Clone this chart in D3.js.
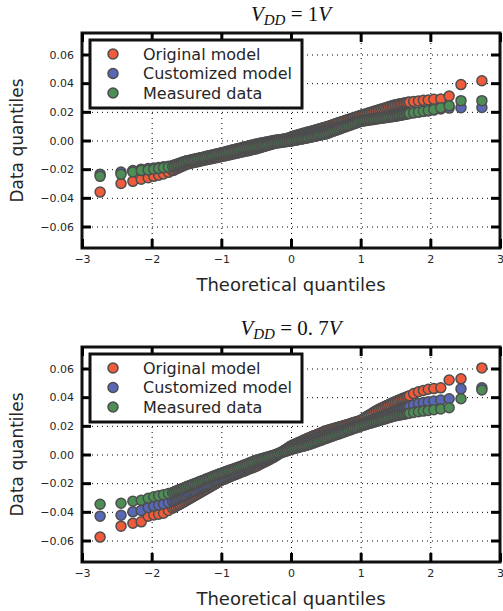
<!DOCTYPE html>
<html>
<head>
<meta charset="utf-8">
<script src="https://cdn.jsdelivr.net/npm/d3@7"></script>
<style>
  body { margin: 0; background: #fff; }
  svg { display: block; font-family: "DejaVu Sans", sans-serif; }
</style>
</head>
<body>
<div id="viz"></div>
<script>
const w = 503;
const h = 611;

// theoretical normal quantiles (shared by every series)
const theoQuantiles = [
  -2.74, -2.44, -2.27, -2.15, -2.05, -1.97, -1.90, -1.83, -1.76,
  -1.700, -1.675, -1.650, -1.625, -1.600, -1.575, -1.550, -1.525, -1.500,
  -1.475, -1.450, -1.425, -1.400, -1.375, -1.350, -1.325, -1.300, -1.275, -1.250,
  -1.225, -1.200, -1.175, -1.150, -1.125, -1.100, -1.075, -1.050, -1.025, -1.000,
  -0.975, -0.950, -0.925, -0.900, -0.875, -0.850, -0.825, -0.800, -0.775, -0.750,
  -0.725, -0.700, -0.675, -0.650, -0.625, -0.600, -0.575, -0.550, -0.525, -0.500,
  -0.475, -0.450, -0.425, -0.400, -0.375, -0.350, -0.325, -0.300, -0.275, -0.250,
  -0.225, -0.200, -0.175, -0.150, -0.125, -0.100, -0.075, -0.050, -0.025, 0.000,
  0.025, 0.050, 0.075, 0.100, 0.125, 0.150, 0.175, 0.200, 0.225, 0.250,
  0.275, 0.300, 0.325, 0.350, 0.375, 0.400, 0.425, 0.450, 0.475, 0.500,
  0.525, 0.550, 0.575, 0.600, 0.625, 0.650, 0.675, 0.700, 0.725, 0.750,
  0.775, 0.800, 0.825, 0.850, 0.875, 0.900, 0.925, 0.950, 0.975, 1.000,
  1.025, 1.050, 1.075, 1.100, 1.125, 1.150, 1.175, 1.200, 1.225, 1.250,
  1.275, 1.300, 1.325, 1.350, 1.375, 1.400, 1.425, 1.450, 1.475, 1.500,
  1.525, 1.550, 1.575, 1.600, 1.625, 1.650, 1.675, 1.700,
  1.76, 1.83, 1.90, 1.97, 2.05, 2.15, 2.27, 2.44, 2.74
];

// VDD = 1V
const original1V = [
  -0.0360, -0.0300, -0.0285, -0.0270, -0.0260, -0.0250, -0.0242, -0.0233, -0.0222,
  -0.0210, -0.0205, -0.0199, -0.0194, -0.0188, -0.0182, -0.0177, -0.0171, -0.0166,
  -0.0163, -0.0160, -0.0157, -0.0154, -0.0151, -0.0149, -0.0146, -0.0143, -0.0140, -0.0137,
  -0.0135, -0.0132, -0.0130, -0.0127, -0.0125, -0.0122, -0.0120, -0.0117, -0.0115, -0.0112,
  -0.0109, -0.0107, -0.0104, -0.0101, -0.0099, -0.0096, -0.0093, -0.0090, -0.0088, -0.0085,
  -0.0082, -0.0080, -0.0077, -0.0074, -0.0072, -0.0069, -0.0066, -0.0063, -0.0061, -0.0058,
  -0.0054, -0.0051, -0.0047, -0.0044, -0.0040, -0.0036, -0.0033, -0.0029, -0.0026, -0.0022,
  -0.0017, -0.0013, -0.0008, -0.0003, 0.0002, 0.0006, 0.0011, 0.0016, 0.0020, 0.0025,
  0.0029, 0.0032, 0.0036, 0.0039, 0.0043, 0.0046, 0.0050, 0.0053, 0.0057, 0.0060,
  0.0063, 0.0067, 0.0070, 0.0074, 0.0077, 0.0080, 0.0084, 0.0087, 0.0091, 0.0094,
  0.0098, 0.0102, 0.0106, 0.0110, 0.0115, 0.0119, 0.0123, 0.0127, 0.0131, 0.0135,
  0.0139, 0.0143, 0.0147, 0.0151, 0.0155, 0.0159, 0.0163, 0.0167, 0.0171, 0.0175,
  0.0179, 0.0182, 0.0186, 0.0190, 0.0194, 0.0197, 0.0201, 0.0205, 0.0208, 0.0212,
  0.0216, 0.0220, 0.0223, 0.0227, 0.0231, 0.0235, 0.0239, 0.0242, 0.0246, 0.0250,
  0.0252, 0.0254, 0.0257, 0.0259, 0.0261, 0.0263, 0.0266, 0.0268,
  0.0272, 0.0276, 0.0280, 0.0283, 0.0287, 0.0290, 0.0310, 0.0390, 0.0417
];
const customized1V = [
  -0.0235, -0.0220, -0.0210, -0.0200, -0.0196, -0.0192, -0.0188, -0.0183, -0.0179,
  -0.0175, -0.0171, -0.0167, -0.0163, -0.0159, -0.0154, -0.0150, -0.0146, -0.0142,
  -0.0139, -0.0137, -0.0134, -0.0131, -0.0129, -0.0126, -0.0123, -0.0120, -0.0118, -0.0115,
  -0.0112, -0.0109, -0.0106, -0.0103, -0.0101, -0.0098, -0.0095, -0.0092, -0.0089, -0.0086,
  -0.0083, -0.0080, -0.0077, -0.0074, -0.0071, -0.0067, -0.0064, -0.0061, -0.0058, -0.0055,
  -0.0052, -0.0049, -0.0046, -0.0043, -0.0040, -0.0037, -0.0034, -0.0031, -0.0028, -0.0025,
  -0.0023, -0.0020, -0.0018, -0.0015, -0.0013, -0.0010, -0.0008, -0.0005, -0.0003, 0.0000,
  0.0002, 0.0003, 0.0005, 0.0006, 0.0008, 0.0010, 0.0011, 0.0013, 0.0014, 0.0016,
  0.0019, 0.0021, 0.0024, 0.0027, 0.0030, 0.0032, 0.0035, 0.0038, 0.0040, 0.0043,
  0.0046, 0.0048, 0.0051, 0.0054, 0.0057, 0.0059, 0.0062, 0.0065, 0.0067, 0.0070,
  0.0073, 0.0076, 0.0080, 0.0083, 0.0086, 0.0089, 0.0092, 0.0096, 0.0099, 0.0102,
  0.0106, 0.0110, 0.0113, 0.0117, 0.0121, 0.0125, 0.0129, 0.0132, 0.0136, 0.0140,
  0.0142, 0.0143, 0.0145, 0.0146, 0.0148, 0.0150, 0.0151, 0.0153, 0.0154, 0.0156,
  0.0158, 0.0159, 0.0161, 0.0162, 0.0164, 0.0166, 0.0167, 0.0169, 0.0170, 0.0172,
  0.0174, 0.0176, 0.0179, 0.0181, 0.0183, 0.0185, 0.0188, 0.0190,
  0.0194, 0.0198, 0.0202, 0.0206, 0.0212, 0.0220, 0.0226, 0.0229, 0.0230
];
const measured1V = [
  -0.0250, -0.0236, -0.0220, -0.0210, -0.0205, -0.0200, -0.0195, -0.0190, -0.0185,
  -0.0180, -0.0176, -0.0171, -0.0167, -0.0163, -0.0158, -0.0154, -0.0149, -0.0145,
  -0.0142, -0.0140, -0.0137, -0.0134, -0.0132, -0.0129, -0.0126, -0.0123, -0.0121, -0.0118,
  -0.0115, -0.0112, -0.0110, -0.0107, -0.0104, -0.0101, -0.0098, -0.0096, -0.0093, -0.0090,
  -0.0088, -0.0085, -0.0083, -0.0080, -0.0078, -0.0075, -0.0073, -0.0070, -0.0068, -0.0065,
  -0.0063, -0.0060, -0.0058, -0.0056, -0.0053, -0.0051, -0.0049, -0.0047, -0.0044, -0.0042,
  -0.0040, -0.0038, -0.0035, -0.0033, -0.0031, -0.0029, -0.0027, -0.0024, -0.0022, -0.0020,
  -0.0018, -0.0017, -0.0015, -0.0014, -0.0012, -0.0010, -0.0009, -0.0007, -0.0006, -0.0004,
  -0.0002, 0.0001, 0.0003, 0.0006, 0.0008, 0.0010, 0.0013, 0.0015, 0.0018, 0.0020,
  0.0023, 0.0025, 0.0028, 0.0030, 0.0033, 0.0036, 0.0038, 0.0041, 0.0043, 0.0046,
  0.0050, 0.0055, 0.0059, 0.0064, 0.0068, 0.0072, 0.0077, 0.0081, 0.0086, 0.0090,
  0.0094, 0.0099, 0.0103, 0.0107, 0.0112, 0.0116, 0.0120, 0.0124, 0.0129, 0.0133,
  0.0135, 0.0137, 0.0139, 0.0141, 0.0143, 0.0144, 0.0146, 0.0148, 0.0150, 0.0152,
  0.0154, 0.0156, 0.0157, 0.0159, 0.0161, 0.0163, 0.0165, 0.0166, 0.0168, 0.0170,
  0.0172, 0.0175, 0.0177, 0.0179, 0.0181, 0.0184, 0.0186, 0.0188,
  0.0193, 0.0198, 0.0204, 0.0210, 0.0217, 0.0228, 0.0243, 0.0278, 0.0278
];

// VDD = 0.7V
const original07V = [
  -0.0576, -0.0500, -0.0480, -0.0470, -0.0430, -0.0422, -0.0416, -0.0410, -0.0390,
  -0.0375, -0.0368, -0.0361, -0.0354, -0.0348, -0.0341, -0.0334, -0.0327, -0.0320,
  -0.0313, -0.0306, -0.0299, -0.0292, -0.0285, -0.0278, -0.0271, -0.0264, -0.0257, -0.0250,
  -0.0243, -0.0236, -0.0229, -0.0222, -0.0215, -0.0208, -0.0201, -0.0194, -0.0187, -0.0180,
  -0.0175, -0.0170, -0.0165, -0.0160, -0.0155, -0.0150, -0.0145, -0.0140, -0.0135, -0.0130,
  -0.0125, -0.0120, -0.0116, -0.0111, -0.0106, -0.0101, -0.0096, -0.0092, -0.0087, -0.0082,
  -0.0076, -0.0070, -0.0063, -0.0057, -0.0051, -0.0045, -0.0039, -0.0032, -0.0026, -0.0020,
  -0.0012, -0.0004, 0.0004, 0.0012, 0.0020, 0.0028, 0.0036, 0.0044, 0.0052, 0.0060,
  0.0066, 0.0071, 0.0077, 0.0082, 0.0088, 0.0093, 0.0099, 0.0104, 0.0110, 0.0115,
  0.0120, 0.0125, 0.0130, 0.0135, 0.0140, 0.0145, 0.0150, 0.0155, 0.0160, 0.0165,
  0.0169, 0.0172, 0.0176, 0.0179, 0.0183, 0.0186, 0.0190, 0.0193, 0.0197, 0.0200,
  0.0204, 0.0208, 0.0211, 0.0215, 0.0219, 0.0223, 0.0227, 0.0230, 0.0234, 0.0238,
  0.0246, 0.0253, 0.0261, 0.0268, 0.0276, 0.0283, 0.0291, 0.0298, 0.0306, 0.0313,
  0.0319, 0.0324, 0.0330, 0.0336, 0.0342, 0.0347, 0.0353, 0.0359, 0.0364, 0.0370,
  0.0375, 0.0380, 0.0385, 0.0390, 0.0395, 0.0400, 0.0405, 0.0410,
  0.0425, 0.0438, 0.0447, 0.0455, 0.0460, 0.0465, 0.0520, 0.0528, 0.0604
];
const customized07V = [
  -0.0430, -0.0424, -0.0400, -0.0390, -0.0370, -0.0360, -0.0352, -0.0345, -0.0335,
  -0.0325, -0.0319, -0.0314, -0.0308, -0.0303, -0.0297, -0.0291, -0.0286, -0.0280,
  -0.0274, -0.0269, -0.0263, -0.0257, -0.0252, -0.0246, -0.0240, -0.0234, -0.0229, -0.0223,
  -0.0217, -0.0211, -0.0206, -0.0200, -0.0194, -0.0188, -0.0182, -0.0177, -0.0171, -0.0165,
  -0.0160, -0.0155, -0.0150, -0.0145, -0.0140, -0.0135, -0.0130, -0.0125, -0.0120, -0.0115,
  -0.0110, -0.0104, -0.0099, -0.0093, -0.0088, -0.0082, -0.0077, -0.0071, -0.0066, -0.0060,
  -0.0055, -0.0050, -0.0045, -0.0040, -0.0035, -0.0030, -0.0025, -0.0020, -0.0015, -0.0010,
  -0.0004, 0.0002, 0.0008, 0.0014, 0.0020, 0.0026, 0.0032, 0.0038, 0.0044, 0.0050,
  0.0054, 0.0059, 0.0063, 0.0068, 0.0072, 0.0076, 0.0081, 0.0085, 0.0090, 0.0094,
  0.0098, 0.0102, 0.0106, 0.0110, 0.0115, 0.0119, 0.0123, 0.0127, 0.0131, 0.0135,
  0.0139, 0.0143, 0.0146, 0.0150, 0.0154, 0.0158, 0.0162, 0.0165, 0.0169, 0.0173,
  0.0177, 0.0180, 0.0184, 0.0188, 0.0192, 0.0195, 0.0199, 0.0203, 0.0206, 0.0210,
  0.0215, 0.0219, 0.0224, 0.0228, 0.0233, 0.0237, 0.0242, 0.0246, 0.0251, 0.0255,
  0.0260, 0.0264, 0.0269, 0.0273, 0.0278, 0.0282, 0.0287, 0.0291, 0.0296, 0.0300,
  0.0304, 0.0309, 0.0313, 0.0318, 0.0322, 0.0326, 0.0331, 0.0335,
  0.0345, 0.0355, 0.0362, 0.0368, 0.0373, 0.0380, 0.0389, 0.0458, 0.0465
];
const measured07V = [
  -0.0347, -0.0340, -0.0326, -0.0320, -0.0305, -0.0295, -0.0288, -0.0280, -0.0272,
  -0.0265, -0.0260, -0.0255, -0.0250, -0.0245, -0.0240, -0.0235, -0.0230, -0.0225,
  -0.0220, -0.0216, -0.0211, -0.0206, -0.0202, -0.0197, -0.0192, -0.0187, -0.0183, -0.0178,
  -0.0173, -0.0168, -0.0164, -0.0159, -0.0154, -0.0149, -0.0144, -0.0140, -0.0135, -0.0130,
  -0.0126, -0.0122, -0.0117, -0.0113, -0.0109, -0.0105, -0.0101, -0.0096, -0.0092, -0.0088,
  -0.0083, -0.0078, -0.0074, -0.0069, -0.0064, -0.0059, -0.0054, -0.0050, -0.0045, -0.0040,
  -0.0037, -0.0033, -0.0030, -0.0026, -0.0023, -0.0019, -0.0016, -0.0012, -0.0009, -0.0005,
  -0.0001, 0.0003, 0.0007, 0.0011, 0.0015, 0.0019, 0.0023, 0.0027, 0.0031, 0.0035,
  0.0038, 0.0042, 0.0045, 0.0048, 0.0052, 0.0055, 0.0058, 0.0061, 0.0065, 0.0068,
  0.0072, 0.0077, 0.0081, 0.0086, 0.0090, 0.0094, 0.0099, 0.0103, 0.0108, 0.0112,
  0.0116, 0.0121, 0.0125, 0.0129, 0.0134, 0.0138, 0.0142, 0.0146, 0.0151, 0.0155,
  0.0159, 0.0164, 0.0168, 0.0172, 0.0177, 0.0181, 0.0185, 0.0189, 0.0194, 0.0198,
  0.0202, 0.0205, 0.0209, 0.0213, 0.0217, 0.0220, 0.0224, 0.0228, 0.0231, 0.0235,
  0.0239, 0.0242, 0.0246, 0.0249, 0.0253, 0.0256, 0.0260, 0.0263, 0.0267, 0.0270,
  0.0272, 0.0275, 0.0277, 0.0279, 0.0281, 0.0284, 0.0286, 0.0288,
  0.0293, 0.0298, 0.0303, 0.0307, 0.0312, 0.0318, 0.0326, 0.0389, 0.0450
];

const seriesNames = ['Original model', 'Customized model', 'Measured data'];
const seriesColors = ['#ef5b3b', '#5868b6', '#4d8e57'];
const xTicks = [-3, -2, -1, 0, 1, 2, 3];
const yTicks = [-0.06, -0.04, -0.02, 0, 0.02, 0.04, 0.06];

const panels = [
  { top: 33, vdd: '1', series: [original1V, customized1V, measured1V] },
  { top: 347, vdd: '0. 7', series: [original07V, customized07V, measured07V] }
];

const left = 82, right = 500, plotH = 215;
const edge = '#4d4d4d';
const fmt = d => d3.format('.2f')(d).replace('-', '\u2212');
const fmtX = d => String(d).replace('-', '\u2212');

const svg = d3.select('#viz').append('svg')
  .attr('width', w)
  .attr('height', h);

panels.forEach(p => {
  const x = d3.scaleLinear().domain([-3, 3]).range([left, right]);
  const y = d3.scaleLinear().domain([-0.075, 0.075]).range([p.top + plotH, p.top]);
  const g = svg.append('g');

  // dotted grid
  g.append('g')
    .attr('transform', `translate(0,${p.top})`)
    .call(d3.axisBottom(x).tickValues(xTicks.slice(1, -1)).tickSize(plotH).tickFormat(''))
    .call(a => a.select('.domain').remove())
    .selectAll('line')
    .attr('stroke', '#000').attr('stroke-width', 1).attr('stroke-dasharray', '1,4');
  g.append('g')
    .attr('transform', `translate(${left},0)`)
    .call(d3.axisRight(y).tickValues(yTicks).tickSize(right - left).tickFormat(''))
    .call(a => a.select('.domain').remove())
    .selectAll('line')
    .attr('stroke', '#000').attr('stroke-width', 1).attr('stroke-dasharray', '1,4');

  // points
  p.series.forEach((vals, si) => {
    g.append('g').selectAll('circle')
      .data(vals)
      .join('circle')
      .attr('cx', (d, i) => x(theoQuantiles[i]))
      .attr('cy', d => y(d))
      .attr('r', 5)
      .attr('fill', seriesColors[si])
      .attr('stroke', edge)
      .attr('stroke-width', 1.5);
  });

  // frame
  g.append('rect')
    .attr('x', left).attr('y', p.top)
    .attr('width', right - left).attr('height', plotH)
    .attr('fill', 'none').attr('stroke', '#111').attr('stroke-width', 3);

  // axes with inward ticks on all four sides
  const styleAxis = a => {
    a.select('.domain').remove();
    a.selectAll('.tick line').attr('stroke', '#000').attr('stroke-width', 3);
    a.selectAll('.tick text').attr('fill', '#262626').attr('font-size', 11)
      .attr('font-family', '"DejaVu Sans", sans-serif');
  };
  g.append('g')
    .attr('transform', `translate(0,${p.top + plotH})`)
    .call(d3.axisBottom(x).tickValues(xTicks).tickSizeInner(-9).tickSizeOuter(0).tickPadding(7).tickFormat(fmtX))
    .call(styleAxis);
  g.append('g')
    .attr('transform', `translate(0,${p.top})`)
    .call(d3.axisTop(x).tickValues(xTicks).tickSizeInner(-9).tickSizeOuter(0).tickFormat(''))
    .call(styleAxis);
  g.append('g')
    .attr('transform', `translate(${left},0)`)
    .call(d3.axisLeft(y).tickValues(yTicks).tickSizeInner(-9).tickSizeOuter(0).tickPadding(8).tickFormat(fmt))
    .call(styleAxis);
  g.append('g')
    .attr('transform', `translate(${right},0)`)
    .call(d3.axisRight(y).tickValues(yTicks).tickSizeInner(-9).tickSizeOuter(0).tickFormat(''))
    .call(styleAxis);

  // axis labels
  g.append('text')
    .attr('x', (left + right) / 2).attr('y', p.top + plotH + 43)
    .attr('text-anchor', 'middle').attr('font-size', 18).attr('fill', '#262626')
    .text('Theoretical quantiles');
  g.append('text')
    .attr('transform', `translate(23,${p.top + plotH / 2}) rotate(-90)`)
    .attr('text-anchor', 'middle').attr('font-size', 17).attr('fill', '#262626')
    .text('Data quantiles');

  // title V_DD = ...V
  const title = g.append('text')
    .attr('x', (left + right) / 2).attr('y', p.top - 12)
    .attr('text-anchor', 'middle')
    .attr('font-family', '"Liberation Serif", serif')
    .attr('font-size', 21).attr('fill', '#111');
  title.append('tspan').attr('font-style', 'italic').text('V');
  title.append('tspan').attr('font-style', 'italic').attr('font-size', 15).attr('dy', 4).text('DD');
  title.append('tspan').attr('dy', -4).text(' = ' + p.vdd);
  title.append('tspan').attr('font-style', 'italic').text('V');

  // legend
  const lg = g.append('g');
  lg.append('rect')
    .attr('x', 90).attr('y', p.top + 7)
    .attr('width', 212).attr('height', 68)
    .attr('fill', '#fff').attr('stroke', '#111').attr('stroke-width', 3);
  seriesNames.forEach((name, i) => {
    const ry = p.top + 21 + i * 19.5;
    lg.append('circle')
      .attr('cx', 113).attr('cy', ry).attr('r', 5)
      .attr('fill', seriesColors[i]).attr('stroke', edge).attr('stroke-width', 1.5);
    lg.append('text')
      .attr('x', 143).attr('y', ry).attr('dy', '0.36em')
      .attr('font-size', 16).attr('fill', '#262626')
      .text(name);
  });
});
</script>
</body>
</html>
